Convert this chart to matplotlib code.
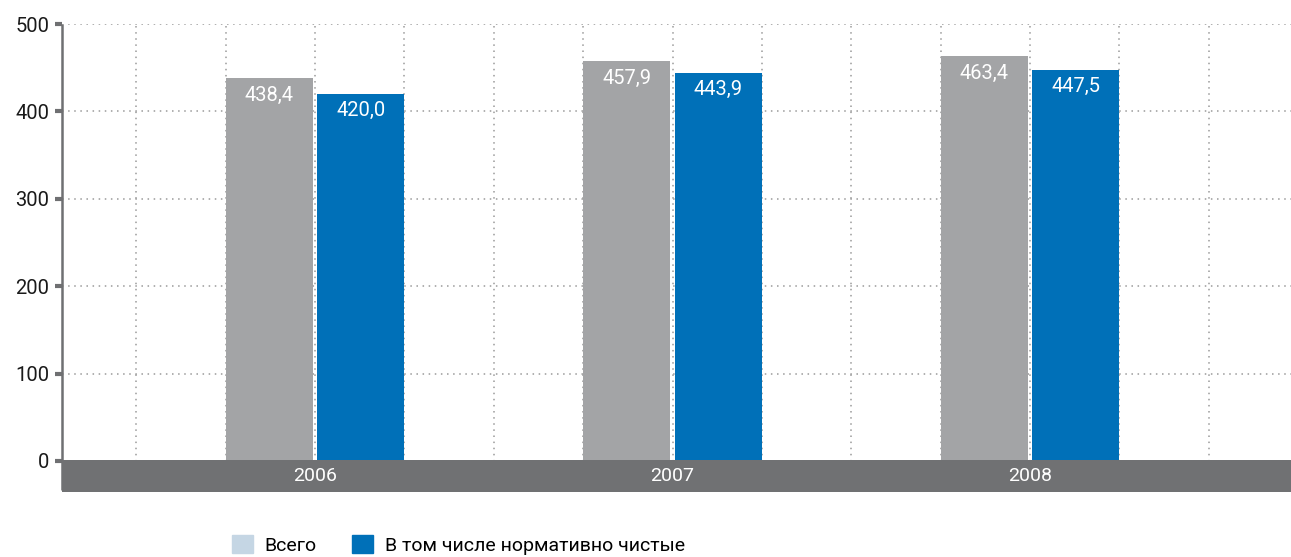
import numpy as np
import matplotlib.pyplot as plt
from matplotlib.patches import Patch, Rectangle
from matplotlib.ticker import MultipleLocator

plt.rcParams['font.family'] = ['Roboto', 'DejaVu Sans']

years = ['2006', '2007', '2008']
total = [438.4, 457.9, 463.4]
clean = [420.0, 443.9, 447.5]
total_labels = ['438,4', '457,9', '463,4']
clean_labels = ['420,0', '443,9', '447,5']
legend_names = ['Всего', 'В том числе нормативно чистые']

grey = '#a3a4a6'
blue = '#0070b8'
band = '#707173'
axis_grey = '#6f7072'

fig = plt.figure(figsize=(12.91, 5.57), dpi=100)
ax = fig.add_axes([62/1291, 65/557, 1 - 62/1291, (492-24)/557])

x = np.arange(len(years))
w = 0.243
ax.bar(x - 0.128, total, w, color=grey, zorder=3)
ax.bar(x + 0.128, clean, w, color=blue, zorder=3)

for i in range(len(years)):
    ax.text(x[i] - 0.128, total[i] - 20, total_labels[i], color='white',
            ha='center', va='center', fontsize=14.5, zorder=4)
    ax.text(x[i] + 0.128, clean[i] - 19, clean_labels[i], color='white',
            ha='center', va='center', fontsize=14.5, zorder=4)

xl = (-0.708, 2.73)
ax.set_xlim(xl)
ax.set_ylim(-35.5, 500)

# grey band with the years (slightly over 0 to hide the zero grid line)
ax.add_patch(Rectangle((xl[0], -35.5), xl[1] - xl[0], 36.5, color=band,
                       zorder=5, clip_on=False, lw=0))
for i, yr in enumerate(years):
    ax.text(x[i], -17.5, yr, color='white', ha='center', va='center',
            fontsize=14, zorder=6)

ax.set_yticks([0, 100, 200, 300, 400, 500])
ax.set_xticks([])
ax.xaxis.set_minor_locator(MultipleLocator(0.25))
ax.tick_params(axis='x', which='minor', length=0)
ax.grid(axis='y', which='major', linestyle=(0, (1, 3)), color='#9a9a9a', lw=1.1, zorder=0)
ax.grid(axis='x', which='minor', linestyle=(0, (1, 3)), color='#9a9a9a', lw=1.1, zorder=0)

for s in ['top', 'right', 'bottom']:
    ax.spines[s].set_visible(False)
ax.spines['left'].set_color(axis_grey)
ax.spines['left'].set_linewidth(1.8)
ax.spines['left'].set_capstyle('butt')
ax.spines['left'].set_bounds(-33, 500)
ax.tick_params(axis='y', length=5, width=3, color=axis_grey, labelsize=14.5,
               labelcolor='#1a1a1a', pad=4)

handles = [Patch(color='#c5d6e4'), Patch(color=blue)]
fig.legend(handles, legend_names, loc='center', bbox_to_anchor=(0.355, 0.022),
           ncol=2, frameon=False, fontsize=14, handlelength=1.1, handleheight=1.1,
           handletextpad=0.6, columnspacing=1.8)

fig.savefig('out.png', dpi=100)
